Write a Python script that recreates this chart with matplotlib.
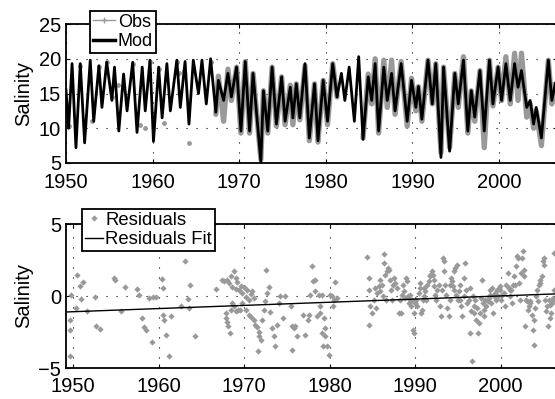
import numpy as np
import matplotlib.pyplot as plt
from matplotlib.lines import Line2D

plt.rcParams['font.family'] = ['Liberation Sans', 'DejaVu Sans']

# model salinity, turning points
mod_year = [1950.0, 1950.3, 1950.7, 1951.15, 1951.65, 1952.15, 1952.8, 1953.2, 1953.8, 1954.15,
            1954.7, 1955.3, 1955.6, 1956.1, 1956.65, 1957.05, 1957.7, 1958.2, 1958.8, 1959.15,
            1959.7, 1960.1, 1960.7, 1961.1, 1961.65, 1962.05, 1962.8, 1963.2, 1963.75, 1964.2,
            1964.7, 1965.3, 1965.7, 1966.2, 1966.7, 1967.3, 1967.6, 1968.2, 1968.7, 1969.1,
            1969.7, 1970.2, 1970.7, 1971.2, 1971.6, 1972.5, 1972.8, 1973.3, 1973.8, 1974.3,
            1974.9, 1975.3, 1975.9, 1976.2, 1976.6, 1977.0, 1977.6, 1978.1, 1978.7, 1979.1,
            1979.7, 1980.2, 1980.8, 1981.3, 1981.8, 1982.2, 1982.7, 1983.3, 1983.8, 1984.3,
            1984.9, 1985.3, 1985.7, 1986.1, 1986.7, 1987.1, 1987.6, 1988.0, 1988.7, 1989.4,
            1989.9, 1990.4, 1990.7, 1991.1, 1991.8, 1992.3, 1992.7, 1993.3, 1993.6, 1994.3,
            1994.9, 1995.3, 1995.9, 1996.4, 1996.8, 1997.2, 1997.8, 1998.3, 1998.9, 1999.3,
            1999.9, 2000.3, 2000.8, 2001.3, 2001.8, 2002.2, 2002.6, 2003.2, 2003.6, 2004.0,
            2004.3, 2004.9, 2005.7, 2006.1, 2006.5]
mod_sal = [15.5, 10.0, 19.3, 7.2, 19.3, 7.9, 19.8, 11.0, 19.0, 13.0,
           19.5, 14.0, 18.8, 9.6, 17.8, 12.5, 19.5, 9.4, 18.8, 12.5,
           19.8, 8.1, 18.8, 11.5, 19.3, 12.5, 19.8, 13.0, 19.6, 10.6,
           19.8, 15.0, 19.8, 13.5, 20.0, 12.3, 16.9, 14.0, 17.9, 14.5,
           18.8, 9.6, 19.6, 9.6, 17.9, 5.2, 15.4, 9.6, 18.8, 10.6,
           17.4, 11.0, 15.9, 11.5, 16.4, 11.5, 19.3, 8.6, 16.4, 8.2,
           16.9, 11.0, 19.3, 14.5, 17.9, 14.0, 18.8, 11.0, 20.3, 8.4,
           17.4, 14.0, 19.3, 9.6, 18.8, 14.0, 17.9, 12.5, 19.3, 11.0,
           16.9, 13.0, 16.0, 11.3, 19.8, 13.5, 19.3, 5.8, 18.8, 6.7,
           17.9, 13.5, 19.8, 9.6, 15.4, 11.6, 18.3, 9.6, 19.8, 13.5,
           18.8, 14.0, 19.3, 14.0, 19.3, 15.9, 18.3, 13.0, 14.0, 10.6,
           13.0, 8.6, 19.8, 14.0, 16.4]

# sparse early observations
obs_early_year = [1950.3, 1951.65, 1953.0, 1953.8, 1954.7, 1955.3, 1956.0, 1957.7, 1958.5,
                  1959.15, 1959.7, 1960.7, 1961.3, 1962.8, 1963.0, 1963.6, 1964.2, 1966.7]
obs_early_sal = [10.3, 19.0, 11.1, 18.8, 19.6, 14.5, 16.2, 19.2, 10.5,
                 10.1, 19.5, 18.5, 10.8, 19.5, 17.9, 18.2, 7.9, 19.5]

# continuous observations (nan = gap 1981-1984)
obs_year = [1967.3, 1967.6, 1968.2, 1968.7, 1969.1, 1969.7, 1970.2, 1970.7, 1971.2, 1971.6,
            1972.5, 1972.8, 1973.3, 1973.8, 1974.3, 1974.9, 1975.3, 1975.9, 1976.2, 1976.6,
            1977.0, 1977.6, 1978.1, 1978.7, 1979.1, 1979.7, 1980.2, 1980.8, 1981.3, 1982.5,
            1984.3, 1984.9, 1985.3, 1985.7, 1986.1, 1986.7, 1987.1, 1987.6, 1988.0, 1988.7,
            1989.4, 1989.9, 1990.4, 1990.7, 1991.1, 1991.8, 1992.3, 1992.7, 1993.3, 1993.6,
            1994.3, 1994.9, 1995.3, 1995.9, 1996.4, 1996.8, 1997.2, 1997.8, 1998.3, 1998.9,
            1999.3, 1999.9, 2000.3, 2000.8, 2001.3, 2001.8, 2002.2, 2002.6, 2003.2, 2003.6,
            2004.0, 2004.3, 2004.9, 2005.7, 2006.1, 2006.5]
obs_sal = [12.0, 17.5, 11.0, 18.5, 14.0, 18.8, 9.3, 19.6, 9.3, 17.9,
           5.5, 15.4, 9.3, 18.8, 10.3, 17.4, 10.5, 16.2, 10.5, 16.4,
           11.2, 19.0, 8.2, 16.4, 8.0, 16.9, 10.5, 19.3, 14.5, np.nan,
           8.6, 17.8, 13.5, 20.0, 9.3, 19.8, 13.0, 19.8, 12.0, 19.6,
           10.3, 17.2, 12.5, 16.0, 11.0, 19.8, 13.5, 19.3, 6.5, 18.8,
           7.2, 17.9, 13.0, 20.3, 9.3, 15.4, 11.0, 18.3, 7.2, 19.8,
           13.2, 18.8, 14.0, 20.3, 13.5, 20.8, 14.0, 20.8, 11.6, 13.5,
           10.0, 12.5, 7.5, 19.8, 13.5, 16.4]

# residuals (obs - mod)
res_year = [1949.69, 1949.61, 1949.61, 1949.61, 1950.31, 1950.47, 1950.78, 1951.09, 1950.89, 1951.63,
            1952.60, 1952.71, 1953.18, 1954.73, 1954.84, 1955.62, 1956.09, 1957.44, 1957.67, 1958.06,
            1958.22, 1958.53, 1958.91, 1959.30, 1959.69, 1959.22, 1960.39, 1960.47, 1960.54, 1960.66,
            1960.85, 1961.16, 1961.43, 1962.60, 1963.10, 1963.37, 1963.57, 1963.64, 1964.26, 1966.74,
            1967.36, 1967.67, 1968.02, 1968.22, 1968.41, 1968.60, 1968.80, 1968.99, 1969.07, 1969.19,
            1969.38, 1969.57, 1969.77, 1969.96, 1970.16, 1970.35, 1970.54, 1970.74, 1970.93, 1971.12,
            1967.83, 1967.91, 1968.02, 1968.14, 1968.29, 1968.41, 1968.60, 1968.80, 1968.99, 1969.22,
            1969.46, 1969.77, 1970.16, 1970.54, 1970.85, 1971.12, 1971.32, 1971.51, 1971.71, 1971.78,
            1971.63, 1971.94, 1972.09, 1972.29, 1972.48, 1972.67, 1972.87, 1972.56, 1973.06, 1973.26,
            1973.45, 1973.64, 1973.84, 1974.03, 1974.22, 1974.54, 1974.81, 1975.48, 1975.59, 1975.79,
            1975.59, 1975.98, 1976.18, 1976.88, 1977.15, 1977.43, 1977.54, 1977.74, 1977.93, 1978.05,
            1978.25, 1978.32, 1978.52, 1978.71, 1978.83, 1978.91, 1979.10, 1979.10, 1979.22, 1979.38,
            1979.49, 1979.49, 1979.69, 1979.88, 1980.08, 1980.27, 1980.39, 1980.47, 1980.66, 1980.86,
            1984.37, 1984.56, 1984.64, 1984.56, 1984.76, 1984.95, 1985.15, 1985.34, 1985.46, 1985.54,
            1985.73, 1985.85, 1985.93, 1986.12, 1986.24, 1986.32, 1986.39, 1986.51, 1986.63, 1986.71,
            1986.78, 1986.90, 1987.02, 1987.17, 1987.29, 1987.41, 1987.56, 1987.68, 1987.88, 1988.07,
            1988.27, 1988.34, 1988.46, 1988.58, 1988.65, 1988.85, 1988.97, 1989.04, 1989.12, 1989.24,
            1989.36, 1989.43, 1989.51, 1989.63, 1989.75, 1989.82, 1989.90, 1990.02, 1990.14, 1990.21,
            1990.41, 1990.53, 1990.60, 1990.68, 1990.80, 1990.92, 1990.99, 1991.07, 1991.19, 1991.31,
            1991.38, 1991.58, 1991.70, 1991.77, 1991.97, 1992.09, 1992.16, 1992.24, 1992.36, 1992.48,
            1992.55, 1992.75, 1992.94, 1993.02, 1993.14, 1993.26, 1993.33, 1993.41, 1993.53, 1993.65,
            1993.72, 1993.92, 1994.04, 1994.11, 1994.19, 1994.31, 1994.43, 1994.50, 1994.58, 1994.70,
            1994.81, 1994.89, 1994.97, 1995.09, 1995.21, 1995.28, 1995.36, 1995.48, 1995.67, 1995.75,
            1995.87, 1995.98, 1996.06, 1996.26, 1996.37, 1996.45, 1996.53, 1996.65, 1996.76, 1996.84,
            1996.92, 1997.04, 1997.15, 1997.23, 1997.31, 1997.43, 1997.54, 1997.70, 1997.82, 1997.93,
            1998.01, 1998.09, 1998.21, 1998.32, 1998.48, 1998.60, 1998.71, 1998.79, 1998.87, 1998.99,
            1999.10, 1999.18, 1999.26, 1999.38, 1999.49, 1999.57, 1999.65, 1999.77, 1999.88, 1999.96,
            2000.04, 2000.16, 2000.35, 2000.55, 2000.66, 2000.82, 2000.94, 2001.05, 2001.13, 2001.21,
            2001.33, 2001.44, 2001.52, 2001.72, 2001.83, 2001.91, 2001.99, 2002.11, 2002.22, 2002.38,
            2002.50, 2002.61, 2002.69, 2002.77, 2002.88, 2003.00, 2003.08, 2003.16, 2003.27, 2003.39,
            2003.47, 2003.66, 2003.78, 2003.86, 2003.94, 2004.05, 2004.17, 2004.25, 2004.33, 2004.44,
            2004.56, 2004.64, 2004.83, 2004.95, 2005.03, 2005.11, 2005.22, 2005.34, 2005.42, 2005.50,
            2005.61, 2005.73, 2005.81, 2005.89, 2006.00, 2006.12, 2006.20, 2006.28, 2006.40]
res_val = [0.09, -1.64, -2.34, -4.19, -0.83, 1.48, 0.72, 0.95, -0.19, -1.02,
           -0.09, -2.06, -2.29, 1.25, 1.09, -1.06, 0.63, 0.51, 0.05, -1.53,
           -2.15, -2.38, -0.16, -0.09, -0.09, -3.22, 1.20, 0.56, -1.30, -1.64,
           -2.69, -4.19, -1.41, -0.67, 2.45, -0.21, -0.83, 0.74, -2.80, 0.49,
           1.13, 1.02, 1.13, 0.90, 1.37, 0.63, 1.71, 1.25, 0.49, 0.95,
           0.39, 0.72, 0.21, 0.63, -0.07, 0.44, -0.25, 0.16, 0.32, -0.14,
           -1.18, -1.53, -1.83, -2.06, -2.57, -0.95, -0.49, -0.72, -1.06, -0.95,
           -0.95, -0.49, -0.95, -1.30, -1.46, -1.64, -1.99, -2.18, -2.52, -2.80,
           -3.84, -3.03, -1.64, -0.95, -0.37, 0.21, 0.63, 1.78, -1.13, -2.22,
           -2.80, -3.50, -1.99, -0.49, -0.02, -1.53, -0.02, -0.72, -2.11, -2.22,
           -3.73, -2.11, -2.80, -1.30, -2.69, -1.64, -1.30, 0.09, 2.06, 1.02,
           1.13, 0.32, -1.41, 0.09, -0.72, -1.18, 0.09, -2.57, -3.50, -1.53,
           -2.22, -2.80, -3.50, -4.07, 0.09, -0.02, -0.72, -0.25, 0.95, -0.14,
           2.71, 0.44, 1.25, -1.99, -0.72, -1.18, -0.25, 0.56, -0.83, 0.21,
           0.67, 0.32, 1.13, 0.79, -0.02, 2.94, 2.29, 1.48, -0.25, 1.71,
           1.94, 1.83, 1.13, 0.44, -0.25, 0.79, 1.25, 0.90, 0.56, -1.18,
           -0.25, -1.18, 0.09, 0.79, 0.32, -0.14, 1.25, 1.02, -0.02, -0.49,
           -0.25, 0.09, -0.72, -0.25, -2.34, -2.57, -1.18, -0.49, -0.25, -0.72,
           0.21, 0.56, 0.90, -1.18, -0.95, -0.25, -0.02, 0.56, 0.32, -0.25,
           0.79, 1.02, 1.37, 1.48, 1.71, 1.48, 1.13, 0.67, 0.09, -0.25,
           0.44, 0.79, -0.72, -1.41, 0.44, 2.64, 2.41, 1.71, 0.79, 0.09,
           -0.83, -1.41, -0.25, 0.79, 1.25, 1.02, 0.67, 0.44, 1.71, 1.94,
           0.09, 2.18, -0.25, 0.32, 0.79, -0.25, -0.72, -1.41, 1.25, -0.02,
           2.29, 0.44, -0.49, -0.25, 0.56, -2.57, -1.06, -4.54, -0.02, -1.18,
           -0.72, -0.25, -1.64, -0.83, -2.57, -1.88, -1.18, -0.14, 1.13, -0.49,
           -0.95, -1.41, -0.25, -0.72, -0.37, -0.14, 0.09, 0.44, -0.49, 0.56,
           -1.18, -0.02, 0.09, 0.21, -0.25, 0.44, -0.02, 0.56, 0.67, 0.44,
           -0.25, 0.09, 0.21, -0.72, 0.79, 1.60, 0.56, -0.02, 0.44, 0.44,
           -0.49, 0.79, 1.37, 0.79, 2.06, 2.75, 2.64, 0.90, -0.25, 1.60,
           2.64, 3.10, 1.83, 1.37, -2.11, -0.25, -0.37, -0.95, -0.72, -0.49,
           -0.37, -1.30, -2.34, -3.38, -1.64, -0.83, -0.02, 0.44, -0.37, 0.79,
           1.13, 0.90, 1.37, 2.41, 2.64, 2.18, -0.25, -1.06, -0.72, -2.11,
           -0.25, -0.60, -1.53, -1.18, -0.49, -0.14, 0.44, 2.99, -0.25]

# linear fit end points
fit_year = [1949.15, 2006.6]
fit_val = [-1.11, 0.15]

gray = '#999999'
fs = 14.5

fig = plt.figure(figsize=(5.55, 3.99), dpi=100)
ax1 = fig.add_axes([66/555, 1-163/399, 491/555, 139/399])
ax2 = fig.add_axes([66/555, 1-368/399, 491/555, 144/399])

# upper panel
ax1.plot(obs_year, obs_sal, color=gray, lw=3.8, solid_capstyle='round', solid_joinstyle='round')
ax1.plot(obs_early_year, obs_early_sal, 'o', color=gray, ms=3.5, mec='none')
ax1.plot(mod_year, mod_sal, color='k', lw=2.0, solid_joinstyle='round')
ax1.set_xlim(1950, 2006.7)
ax1.set_ylim(5, 25)
ax1.set_xticks([1950, 1960, 1970, 1980, 1990, 2000])
ax1.set_yticks([5, 10, 15, 20, 25])
ax1.set_ylabel('Salinity', fontsize=fs, labelpad=4)
h1 = [Line2D([], [], color=gray, lw=1, marker='+', ms=4, mew=1),
      Line2D([], [], color='k', lw=2.5)]
leg1 = ax1.legend(h1, ['Obs', 'Mod'], loc='upper left', bbox_to_anchor=(90/555, 1-11/399),
                  bbox_transform=fig.transFigure, borderaxespad=0, fontsize=13,
                  fancybox=False, framealpha=1, edgecolor='k', handlelength=1.25,
                  handletextpad=0.15, labelspacing=0.12, borderpad=0.15)

# lower panel
ax2.plot(res_year, res_val, 'D', color=gray, ms=3.2, mec='none')
ax2.plot(fit_year, fit_val, color='k', lw=1.0)
ax2.set_xlim(1949.15, 2006.6)
ax2.set_ylim(-5, 5)
ax2.set_xticks([1950, 1960, 1970, 1980, 1990, 2000])
ax2.set_yticks([-5, 0, 5])
ax2.set_ylabel('Salinity', fontsize=fs, labelpad=4)
h2 = [Line2D([], [], color=gray, lw=0, marker='D', ms=3.2, mec='none'),
      Line2D([], [], color='k', lw=1.0)]
leg2 = ax2.legend(h2, ['Residuals', 'Residuals Fit'], loc='upper left',
                  bbox_to_anchor=(82/555, 1-209/399), bbox_transform=fig.transFigure,
                  borderaxespad=0, fontsize=13.3, fancybox=False, framealpha=1, edgecolor='k',
                  handlelength=1.0, handletextpad=0.1, labelspacing=0.12, borderpad=0.15)

for ax, leg in ((ax1, leg1), (ax2, leg2)):
    leg.get_frame().set_linewidth(1.3)
    ax.grid(True, color='k', lw=0.8, linestyle=(0, (1, 8)))
    ax.tick_params(direction='in', length=3, width=0.8, labelsize=fs, pad=3.5,
                   top=True, right=True)
    for s in ax.spines.values():
        s.set_linewidth(1.3)

ax1.tick_params(axis='x', pad=7)
ax2.tick_params(axis='x', pad=6.5)

fig.savefig('out.png', dpi=100)
